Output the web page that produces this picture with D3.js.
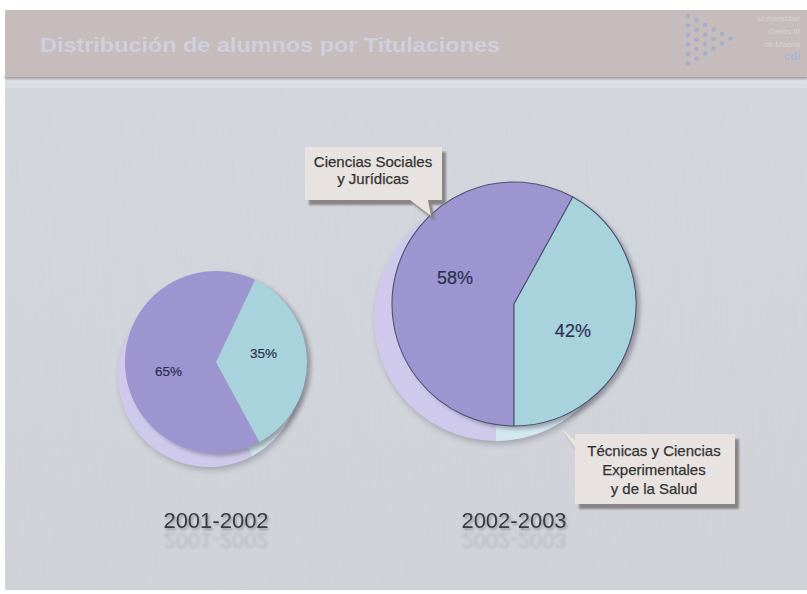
<!DOCTYPE html>
<html><head><meta charset="utf-8">
<script src="https://cdn.jsdelivr.net/npm/d3@7"></script>
<style>
html,body{margin:0;padding:0;background:#fff;}
svg{display:block;}
</style></head>
<body>
<svg id="chart" width="807" height="594" xmlns:xlink="http://www.w3.org/1999/xlink"></svg>
<script>
// ---- data ----
const title = "Distribución de alumnos por Titulaciones";
const categories = ["Ciencias Sociales y Jurídicas", "Técnicas y Ciencias Experimentales y de la Salud"];
const years = ["2001-2002", "2002-2003"];
const values2001 = [65, 35];
const values2002 = [58, 42];
const callout1Lines = ["Ciencias Sociales", "y Jurídicas"];
const callout2Lines = ["Técnicas y Ciencias", "Experimentales", "y de la Salud"];
const logoLines = ["Universidad", "Carlos III", "de Madrid", "cdi"];

// ---- styles / layout ----
const faceColors = ["#9c95d0", "#a9d3dc"];
const shadowColors = ["#cfc9ec", "#d2e8ee"];
const FONT = "'Liberation Sans', Arial, sans-serif";

const svg = d3.select("#chart");
const defs = svg.append("defs");
const blur = (id, s) => defs.append("filter").attr("id", id)
  .attr("x", "-30%").attr("y", "-30%").attr("width", "160%").attr("height", "160%")
  .append("feGaussianBlur").attr("stdDeviation", s);
blur("b1", 1.2); blur("b3", 3); blur("b2", 2); blur("b05", 0.35); blur("b15", 1.5);

// text drop shadow
const ds = defs.append("filter").attr("id", "tshadow").attr("x", "-10%").attr("y", "-30%").attr("width", "120%").attr("height", "160%");
ds.append("feDropShadow").attr("dx", 1.5).attr("dy", 2).attr("stdDeviation", 1.2)
  .attr("flood-color", "#555").attr("flood-opacity", 0.45);

// subtle paper texture
const tex = defs.append("filter").attr("id", "tex");
tex.append("feTurbulence").attr("type", "fractalNoise").attr("baseFrequency", "0.9 0.02").attr("numOctaves", 2).attr("seed", 3);
tex.append("feColorMatrix").attr("type", "matrix")
  .attr("values", "0 0 0 0 0.5  0 0 0 0 0.5  0 0 0 0 0.55  0 0 0 0.12 0");
tex.append("feComposite").attr("in2", "SourceGraphic").attr("operator", "in");

const bg = defs.append("linearGradient").attr("id", "bgGrad").attr("x1", 0).attr("y1", 0).attr("x2", 0).attr("y2", 1);
bg.append("stop").attr("offset", "0%").attr("stop-color", "#d5d8e0");
bg.append("stop").attr("offset", "100%").attr("stop-color", "#d2d4da");

// slide background
svg.append("rect").attr("x", 5).attr("y", 10).attr("width", 802).attr("height", 580).attr("fill", "url(#bgGrad)");
svg.append("rect").attr("x", 5).attr("y", 10).attr("width", 802).attr("height", 580).attr("fill", "#fff").attr("filter", "url(#tex)");

// header band
svg.append("rect").attr("x", 5).attr("y", 78).attr("width", 802).attr("height", 10).attr("fill", "#dcdee6");
svg.append("rect").attr("x", 5).attr("y", 75).attr("width", 802).attr("height", 4).attr("fill", "#8f8a8c").attr("filter", "url(#b1)").attr("opacity", 0.7);
svg.append("rect").attr("x", 5).attr("y", 10).attr("width", 802).attr("height", 67).attr("fill", "#c6bcbc");
svg.append("text").attr("x", 40).attr("y", 52).attr("font-family", FONT).attr("font-weight", "bold")
  .attr("font-size", 21).attr("fill", "#cfcfe0").attr("textLength", 460).attr("lengthAdjust", "spacingAndGlyphs")
  .attr("filter", "url(#b05)")
  .text(title);

// logo: triangle of dots + faint text
const dotCols = [6, 5, 4, 3, 2, 1];
dotCols.forEach((n, c) => {
  for (let i = 0; i < n; i++) {
    svg.append("circle").attr("cx", 688 + c * 8.5).attr("cy", 16 + c * 4.5 + i * 9.5).attr("r", 2.3)
      .attr("fill", "#97abd0").attr("opacity", 0.75);
  }
});
logoLines.forEach((t, i) => {
  svg.append("text").attr("x", 800).attr("y", 21 + i * 13).attr("text-anchor", "end")
    .attr("font-family", FONT).attr("font-size", i === 3 ? 11 : 8).attr("font-weight", i === 3 ? "bold" : "normal")
    .attr("fill", i === 3 ? "#a7b4d6" : "#d6d2d6").text(t);
});

// ---- pies ----
const pies = [
  { values: values2001, year: years[0], cx: 216, cy: 362, r: 91, start: 151.5, sdx: -7, sdy: 14, labelRot: -9, outline: false, fs: 13.5 },
  { values: values2002, year: years[1], cx: 514, cy: 304, r: 122, start: 180, sdx: -18, sdy: 15, labelRot: 10, outline: true, fs: 18 }
];
const rad = d => d * Math.PI / 180;

pies.forEach((p, k) => {
  const pie = d3.pie().sort(null).startAngle(rad(p.start)).endAngle(rad(p.start) + 2 * Math.PI);
  const arcs = pie(p.values);
  const arc = d3.arc().innerRadius(0).outerRadius(p.r);
  const g = svg.append("g").attr("transform", `translate(${p.cx},${p.cy})`);

  // soft dark shadow under the extruded copy
  g.append("circle").attr("cx", p.sdx + 2).attr("cy", p.sdy + 3).attr("r", p.r).attr("fill", "#6b6b78")
    .attr("opacity", 0.45).attr("filter", "url(#b3)");
  // light extruded copy
  g.append("g").attr("transform", `translate(${p.sdx},${p.sdy})`)
    .selectAll("path").data(arcs).join("path").attr("d", arc).attr("fill", (d, i) => shadowColors[i]);
  // dark drop shadow under face
  g.append("circle").attr("cx", 4).attr("cy", 3).attr("r", p.r).attr("fill", "#5a5a66")
    .attr("opacity", 0.5).attr("filter", "url(#b2)");
  // face
  g.selectAll("path.face").data(arcs).join("path").attr("class", "face").attr("d", arc)
    .attr("fill", (d, i) => faceColors[i])
    .attr("stroke", p.outline ? "#4c5272" : "none").attr("stroke-width", 1.1).attr("stroke-linejoin", "round");

  // labels
  g.selectAll("text.pct").data(arcs).join("text").attr("class", "pct")
    .attr("transform", d => {
      const a = (d.startAngle + d.endAngle) / 2 + rad(p.labelRot);
      const lr = p.r * 0.53;
      return `translate(${lr * Math.sin(a)},${-lr * Math.cos(a)})`;
    })
    .attr("text-anchor", "middle").attr("dy", "0.36em")
    .attr("font-family", FONT).attr("font-size", p.fs).attr("fill", "#2c3052")
    .attr("stroke", "#2c3052").attr("stroke-width", 0.2)
    .text(d => d.data + "%");

  // year label with drop shadow and faint blurred reflection
  const yy = 528;
  const id = "year" + k;
  const refl = "yearRefl" + k;
  defs.append("text").attr("id", refl).attr("x", p.cx).attr("y", yy).attr("text-anchor", "middle")
    .attr("font-family", FONT).attr("font-size", 22).attr("fill", "#55555a").text(p.year);
  svg.append("use").attr("href", "#" + refl).attr("xlink:href", "#" + refl)
    .attr("transform", `translate(0,${2 * yy + 5}) scale(1,-1)`)
    .attr("opacity", 0.2).attr("filter", "url(#b15)");
  svg.append("text").attr("id", id).attr("x", p.cx).attr("y", yy).attr("text-anchor", "middle")
    .attr("font-family", FONT).attr("font-size", 22).attr("fill", "#3a3a3e")
    .attr("filter", "url(#tshadow)").text(p.year);
});

// ---- callouts ----
function callout(pathD, lines, cx, y0, lh) {
  svg.append("path").attr("d", pathD).attr("transform", "translate(4,5)").attr("fill", "#7d7878")
    .attr("opacity", 0.85).attr("filter", "url(#b1)");
  svg.append("path").attr("d", pathD).attr("fill", "#e8e3e0");
  lines.forEach((t, i) => svg.append("text").attr("x", cx).attr("y", y0 + i * lh)
    .attr("text-anchor", "middle").attr("font-family", FONT).attr("font-size", 15)
    .attr("fill", "#333").attr("stroke", "#333").attr("stroke-width", 0.25).text(t));
}
callout("M305,147 H442 V200 H428 L431,216 L410,200 H305 Z", callout1Lines, 373, 167, 17);
callout("M575,434 H735 V504 H575 V448 L561,428 L575,440 Z", callout2Lines, 654, 456, 19);
</script>
</body></html>
